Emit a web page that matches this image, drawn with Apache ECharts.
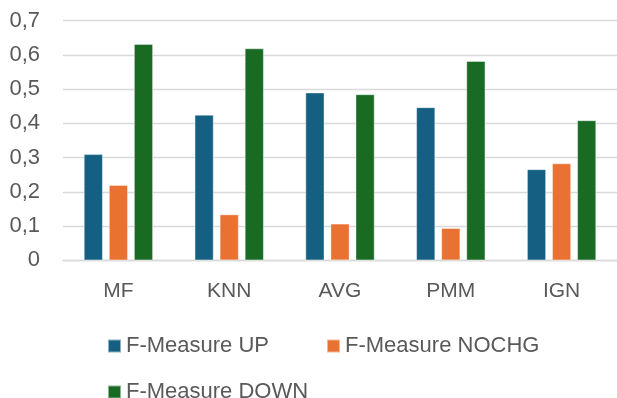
<!DOCTYPE html>
<html>
<head>
<meta charset="utf-8">
<script src="https://cdn.jsdelivr.net/npm/echarts@6/dist/echarts.min.js"></script>
<style>
  html, body { margin: 0; padding: 0; background: #fff; }
  #chart-box { width: 617px; height: 398px; }
</style>
</head>
<body>
<div id="chart-box"></div>
<script>
const categories = ["MF", "KNN", "AVG", "PMM", "IGN"];
const upValues = [0.31, 0.425, 0.49, 0.447, 0.266];
const nochgValues = [0.22, 0.134, 0.107, 0.094, 0.283];
const downValues = [0.632, 0.619, 0.485, 0.582, 0.409];
const yTicks = [0, 0.1, 0.2, 0.3, 0.4, 0.5, 0.6, 0.7];

const textColor = "#595959";
const fontFamily = "Liberation Sans, Arial, sans-serif";

const chart = echarts.init(document.getElementById("chart-box"));

const legendText = {
  color: textColor,
  fontSize: 22,
  fontFamily: fontFamily,
};

const option = {
  animation: false,
  grid: {
    left: 63,
    top: 20.7,
    width: 558,
    height: 239.6,
  },
  legend: [
    {
      left: 102,
      top: 330,
      itemWidth: 13,
      itemHeight: 13,
      itemGap: 57,
      icon: "rect",
      textStyle: legendText,
      data: ["F-Measure UP", "F-Measure NOCHG"],
    },
    {
      left: 102,
      top: 376,
      itemWidth: 13,
      itemHeight: 13,
      icon: "rect",
      textStyle: legendText,
      data: ["F-Measure DOWN"],
    },
  ],
  xAxis: {
    type: "category",
    data: categories,
    axisTick: { show: false },
    axisLine: { lineStyle: { color: "#d9d9d9", width: 1.3 } },
    axisLabel: {
      color: textColor,
      fontSize: 21,
      fontFamily: fontFamily,
      margin: 20,
    },
  },
  yAxis: {
    type: "value",
    min: 0,
    max: yTicks[yTicks.length - 1],
    interval: 0.1,
    axisLine: { show: false },
    axisTick: { show: false },
    splitLine: { lineStyle: { color: "#d9d9d9", width: 1.3 } },
    axisLabel: {
      color: textColor,
      fontSize: 22,
      fontFamily: fontFamily,
      margin: 23,
      formatter: (v) => String(Math.round(v * 10) / 10).replace(".", ","),
    },
  },
  series: [
    {
      name: "F-Measure UP",
      type: "bar",
      data: upValues,
      barWidth: 19,
      barGap: "32%",
      itemStyle: { color: "#156082", borderColor: "rgba(255,255,255,0.5)", borderWidth: 0.8 },
    },
    {
      name: "F-Measure NOCHG",
      type: "bar",
      data: nochgValues,
      barWidth: 19,
      barGap: "32%",
      itemStyle: { color: "#E97132", borderColor: "rgba(255,255,255,0.5)", borderWidth: 0.8 },
    },
    {
      name: "F-Measure DOWN",
      type: "bar",
      data: downValues,
      barWidth: 19,
      barGap: "32%",
      itemStyle: { color: "#196B24", borderColor: "rgba(255,255,255,0.5)", borderWidth: 0.8 },
    },
  ],
};

chart.setOption(option);
</script>
</body>
</html>
